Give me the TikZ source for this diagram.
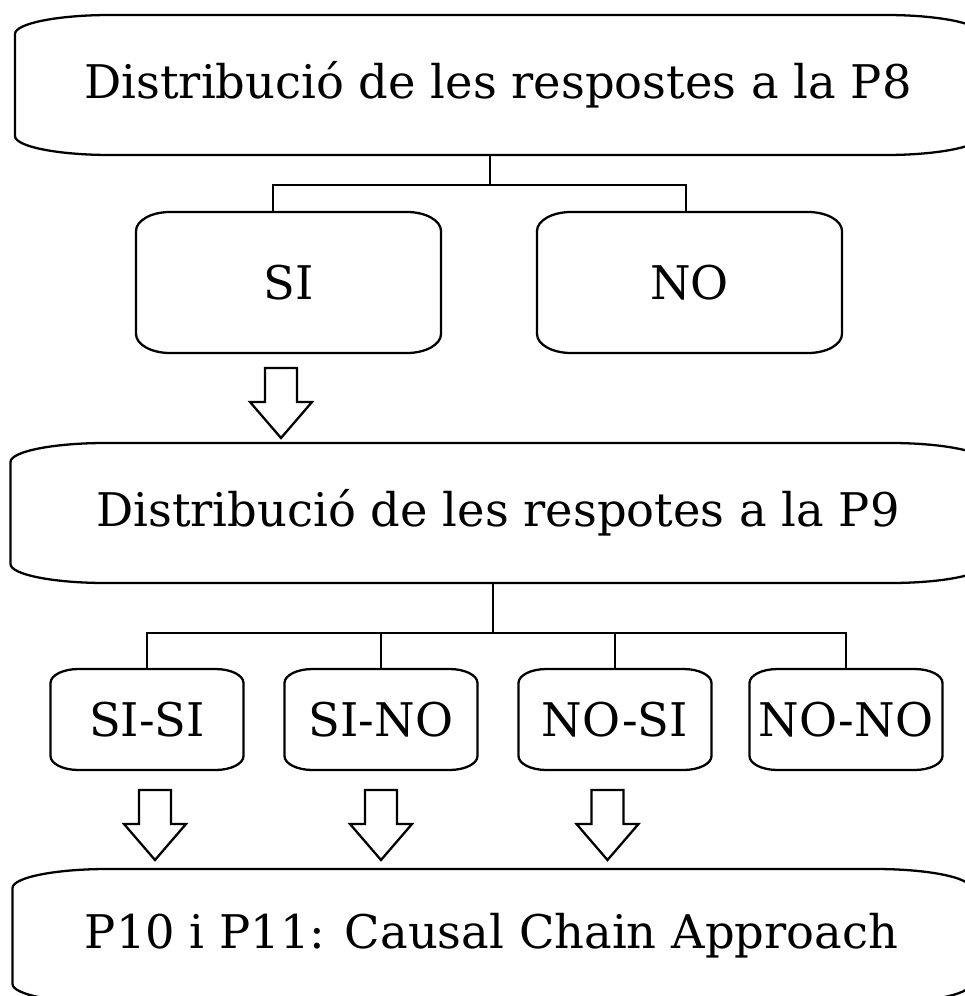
\documentclass[tikz,border=0pt]{standalone}
\usepackage{fontspec}
\setmainfont{DejaVu Serif}
\usetikzlibrary{positioning}

% outline with elliptic corners round a named node
\newcommand{\ellbox}[3]{%
  \draw ([xshift=#2]#1.north west) -- ([xshift=-#2]#1.north east)
    arc[start angle=90, end angle=0, x radius=#2, y radius=#3]
    -- ([yshift=#3]#1.south east)
    arc[start angle=0, end angle=-90, x radius=#2, y radius=#3]
    -- ([xshift=#2]#1.south west)
    arc[start angle=270, end angle=180, x radius=#2, y radius=#3]
    -- ([yshift=-#3]#1.north west)
    arc[start angle=180, end angle=90, x radius=#2, y radius=#3]
    -- cycle;}

\tikzset{
  pics/downarr/.style={code={
    \draw (-0.16,0) -- (0.16,0) -- (0.16,-0.34) -- (0.31,-0.34) -- (0,-0.70)
      -- (-0.31,-0.34) -- (-0.16,-0.34) -- cycle;}},
}

\begin{document}
\begin{tikzpicture}[
    line width=0.65pt,
    txt/.style={inner sep=0pt, outer sep=0pt, align=center, font=\fontsize{13.2}{16}\selectfont},
    bigbox/.style={txt, minimum height=1.40cm},
    midbox/.style={txt, minimum width=3.05cm, minimum height=1.41cm},
    smallbox/.style={txt, minimum width=1.93cm, minimum height=1.01cm},
  ]
  \useasboundingbox (0,0) rectangle (9.64,-9.96);

  \node[bigbox, minimum width=9.66cm] (p8) at (4.98,-0.85) {Distribució de les respostes a la P8};
  \node[midbox, below=0.57cm of p8.south west, anchor=north west, xshift=1.21cm] (si) {SI};
  \node[midbox, right=0.96cm of si] (no) {NO};

  \node[bigbox, minimum width=9.75cm, below=2.88cm of p8] (p9) {Distribució de les respotes a la P9};
  \node[smallbox, below=0.86cm of p9.south west, anchor=north west, xshift=0.40cm] (sisi) {SI-SI};
  \node[smallbox, right=0.41cm of sisi] (sino) {SI-NO};
  \node[smallbox, right=0.41cm of sino] (nosi) {NO-SI};
  \node[smallbox, right=0.38cm of nosi] (nono) {NO-NO};

  \node[bigbox, minimum width=9.58cm, minimum height=1.34cm, below=2.86cm of p9.south west, anchor=north west, xshift=0.02cm] (p10) {P10 i P11: Causal Chain Approach};

  % outlines
  \ellbox{p8}{0.95cm}{0.19cm}
  \ellbox{p9}{0.95cm}{0.19cm}
  \ellbox{p10}{0.95cm}{0.19cm}
  \ellbox{si}{0.34cm}{0.19cm}
  \ellbox{no}{0.34cm}{0.19cm}
  \foreach \n in {sisi, sino, nosi, nono}
    \ellbox{\n}{0.28cm}{0.14cm};

  % tree lines
  \coordinate (s1) at (4.90,-1.85);
  \draw (p8.south -| s1) -- (s1);
  \draw ([xshift=-0.155cm]si.north) |- (s1) -| ([xshift=-0.035cm]no.north);

  \coordinate (s2) at (4.93,-6.33);
  \draw (p9.south -| s2) -- (s2);
  \draw (sisi.north) |- (s2) -| (nono.north);
  \draw (sino.north) -- (sino.north |- s2);
  \draw (nosi.north) -- (nosi.north |- s2);

  % block arrows
  \pic at ([xshift=-0.075cm, yshift=-0.15cm]si.south) {downarr};
  \pic at ([xshift=0.08cm, yshift=-0.20cm]sisi.south) {downarr};
  \pic at ([yshift=-0.20cm]sino.south) {downarr};
  \pic at ([xshift=-0.075cm, yshift=-0.20cm]nosi.south) {downarr};
\end{tikzpicture}
\end{document}
